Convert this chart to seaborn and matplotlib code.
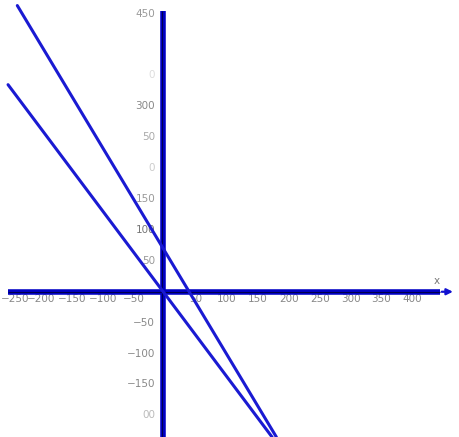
import pandas as pd
import matplotlib.pyplot as plt
import seaborn as sns

# two straight lines, endpoints
line1_x = [-251, 176]
line1_y = [335, -235]
line2_x = [-236, 183]
line2_y = [463, -235]

# axis tick labels as they appear (some are faded / cut in the original)
xtick_vals = [-250, -200, -150, -100, -50, 50, 100, 150, 200, 250, 300, 350, 400]
xtick_text = ['−250', '−200', '−150', '−100', '−50', '50', '100', '150', '200', '250', '300', '350', '400']
ytick_vals = [450, 350, 300, 250, 200, 150, 100, 50, -50, -100, -150, -200]
ytick_text = ['450', '0', '300', '50', '0', '150', '100', '50', '−50', '−100', '−150', '00']
ytick_col = ['#999999', '#dddddd', '#888888', '#aaaaaa', '#cccccc', '#999999',
             '#777777', '#999999', '#888888', '#888888', '#888888', '#bbbbbb']

df = pd.DataFrame({
    'x': line1_x + line2_x,
    'y': line1_y + line2_y,
    'line': ['a'] * len(line1_x) + ['b'] * len(line2_x),
})

sns.set_style('white')
fig = plt.figure(figsize=(4.6, 4.37), dpi=100)
ax = fig.add_axes([0, 0, 1, 1])
ax.set_xlim(-264, 480)
ax.set_ylim(-235, 472)
ax.set_axis_off()

# coordinate axes
ax.plot([-251, 448], [0, 0], color='#0000c4', lw=4, solid_capstyle='butt', zorder=2)
ax.plot([-251, 448], [-1.2, -1.2], color='#000050', lw=0.8, solid_capstyle='butt', zorder=3)
ax.annotate('', xy=(473, 0), xytext=(446, 0),
            arrowprops=dict(arrowstyle='-|>', color='#1010d0', lw=1.6, mutation_scale=9), zorder=3)
ax.plot([0, 0], [455, -235], color='#0000c4', lw=4, solid_capstyle='butt', zorder=2)
ax.plot([-1.2, -1.2], [455, -235], color='#000050', lw=0.8, solid_capstyle='butt', zorder=3)

sns.lineplot(data=df, x='x', y='y', hue='line', palette=['#1a1ad2', '#1a1ad2'],
             lw=2.2, legend=False, ax=ax, zorder=4, sort=False, estimator=None)
ax.set_axis_off()

for v, t in zip(xtick_vals, xtick_text):
    if v == xtick_vals[0]:
        ax.text(-262, -12, t, ha='left', va='center', fontsize=7.5, color='#888888', zorder=1)
    else:
        ax.text(v + 3, -12, t, ha='center', va='center', fontsize=7.5, color='#888888', zorder=1)
for v, t, c in zip(ytick_vals, ytick_text, ytick_col):
    ax.text(-13, v, t, ha='right', va='center', fontsize=7.5, color=c, zorder=1)
ax.text(443, 17, 'x', ha='center', va='center', fontsize=7.5, color='#777777')

fig.savefig('out.png', dpi=100)
